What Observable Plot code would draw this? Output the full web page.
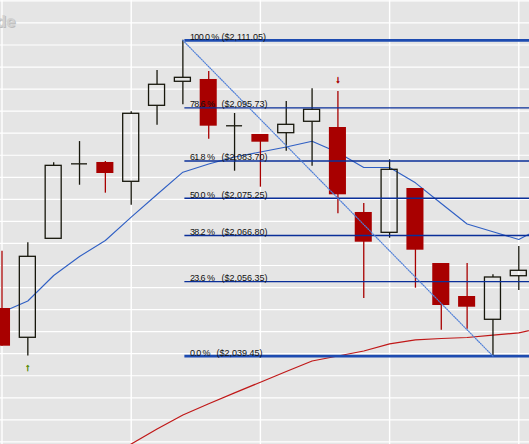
<!DOCTYPE html>
<html>
<head>
<meta charset="utf-8">
<script src="https://cdn.jsdelivr.net/npm/d3@7"></script>
<script src="https://cdn.jsdelivr.net/npm/@observablehq/plot@0.6"></script>
<style>
  html, body { margin: 0; padding: 0; background: #e5e5e5; overflow: hidden; }
  #chart svg { display: block; }
</style>
</head>
<body>
<div id="chart"></div>
<script>
// ---- data ----
const barIndex = [0,1,2,3,4,5,6,7,8,9,10,11,12,13,14,15,16,17,18,19,20];
const openP  = [2050.25,2043.61,2066.05,2083.05,2083.36,2078.98,2096.21,2101.66,2102.18,2091.68,2089.71,2090.00,2092.59,2091.29,2072.02,2067.41,2077.46,2060.45,2052.97,2047.69,2057.57];
const highP  = [2063.24,2065.15,2083.30,2088.10,2083.58,2094.85,2104.22,2111.05,2103.99,2094.47,2089.71,2097.19,2100.07,2099.46,2074.06,2083.97,2077.46,2060.45,2060.45,2057.89,2064.31];
const lowP   = [2041.70,2039.45,2066.05,2078.20,2076.40,2073.67,2091.81,2096.44,2088.64,2081.38,2077.76,2085.92,2082.52,2071.72,2052.50,2066.19,2054.85,2045.33,2045.56,2039.45,2054.33];
const closeP = [2041.70,2061.97,2082.60,2083.05,2080.86,2094.40,2100.98,2102.56,2091.59,2091.68,2087.96,2091.90,2095.31,2076.03,2065.28,2081.70,2063.47,2050.93,2050.54,2057.28,2058.80];

// short moving average (blue)
const maFastIndex = [0,1,2,3,4,5,6,7,8,9,10,11,12,13,14,15,16,17,18,19,20,21];
const maFast = [2049.39,2051.95,2057.73,2062.04,2065.67,2070.95,2076.10,2081.16,2083.02,2084.60,2085.74,2086.87,2088.19,2085.62,2082.22,2082.22,2078.75,2074.06,2069.41,2067.64,2065.90,2069.00];
// long moving average (red)
const maSlowIndex = [4,5,6,7,8,9,10,11,12,13,14,15,16,17,18,19,20,21];
const maSlow = [2016.01,2019.52,2022.93,2026.10,2028.66,2031.11,2033.54,2035.96,2038.34,2039.48,2040.61,2042.24,2043.15,2043.45,2043.67,2044.19,2044.74,2045.99];

// Fibonacci retracement
const fibPct   = [100.0, 78.6, 61.8, 50.0, 38.2, 23.6, 0.0];
const fibPrice = [2111.05, 2095.73, 2083.70, 2075.25, 2066.80, 2056.35, 2039.45];
const fibStartBar = 7;   // swing high bar
const fibEndBar = 19;    // swing low bar

// grid ticks
const gridPrices = [2020,2025,2030,2035,2040,2045,2050,2055,2060,2065,2070,2075,2080,2085,2090,2095,2100,2105,2110,2115,2120];
const gridBars = [0,5,10,15,20];

// swing markers
const swingLowBar = 1;
const swingHighBar = 13;

// ---- build tables ----
const candles = barIndex.map((i, k) => ({i, o: openP[k], h: highP[k], l: lowP[k], c: closeP[k]}));
const down = candles.filter(d => d.c < d.o);
const up = candles.filter(d => d.c >= d.o);
const upBody = up.filter(d => d.c - d.o > 0.05);
const upDoji = up.filter(d => d.c - d.o <= 0.05);
const fast = maFastIndex.map((i, k) => ({i, v: maFast[k]}));
const slow = maSlowIndex.map((i, k) => ({i, v: maSlow[k]}));
const fib = fibPct.map((p, k) => ({pct: p, price: fibPrice[k]}));
const diag = [{i: fibStartBar, v: fibPrice[0]}, {i: fibEndBar, v: fibPrice[fibPrice.length - 1]}];

const HW = 0.31;   // half body width (bars)
const RED = "#a80000";
const INK = "#17170c";
const NAVY = "#0a2f99";

const chart = Plot.plot({
  width: 529,
  height: 444,
  margin: 0,
  x: {type: "linear", domain: [-0.058, 20.414], axis: null},
  y: {type: "linear", domain: [2019.41, 2120.09], axis: null},
  style: {background: "#e5e5e5", fontFamily: "'Liberation Sans', Arial, sans-serif"},
  marks: [
    Plot.ruleY(gridPrices, {stroke: "#ffffff", strokeWidth: 1.2}),
    Plot.ruleX(gridBars, {stroke: "#ffffff", strokeWidth: 1.4}),
    Plot.line(slow, {x: "i", y: "v", stroke: "#c01818", strokeWidth: 1.2}),
    Plot.line(fast, {x: "i", y: "v", stroke: "#2f5fc4", strokeWidth: 1.1}),
    // bearish candles
    Plot.ruleX(down, {x: "i", y1: "l", y2: "h", stroke: RED, strokeWidth: 1.3}),
    Plot.rect(down, {x1: d => d.i - HW - 0.02, x2: d => d.i + HW + 0.02, y1: "o", y2: "c", fill: RED}),
    // bullish candles
    Plot.ruleX(up, {x: "i", y1: "h", y2: "c", stroke: INK, strokeWidth: 1.3}),
    Plot.ruleX(up, {x: "i", y1: "o", y2: "l", stroke: INK, strokeWidth: 1.3}),
    Plot.rect(upBody, {x1: d => d.i - HW, x2: d => d.i + HW, y1: "o", y2: "c", fill: "none", stroke: INK, strokeWidth: 1.3}),
    Plot.ruleY(upDoji, {y: "c", x1: d => d.i - HW, x2: d => d.i + HW, stroke: INK, strokeWidth: 1.3}),
    // fib levels
    Plot.ruleY(fib.filter(d => d.pct !== 0 && d.pct !== 100), {y: "price", x1: fibStartBar, x2: 21, dx: 2, stroke: NAVY, strokeWidth: 1.3}),
    Plot.ruleY(fib.filter(d => d.pct === 0 || d.pct === 100), {y: "price", x1: fibStartBar, x2: 21, dx: 2, stroke: "#1d4bb0", strokeWidth: 2.6}),
    Plot.line(diag, {x: "i", y: "v", stroke: "#4f7fd8", strokeWidth: 1.2, strokeDasharray: "1,1.4"}),
    Plot.text(fib, {x: fibStartBar, y: "price", text: d => `${d.pct.toFixed(1)} %`, textAnchor: "start", dx: 7, dy: -3.5, fontSize: 9, fill: "#111"}),
    Plot.text(fib, {x: fibStartBar, y: "price", text: d => `($${d3.format(",.2f")(d.price)})`, textAnchor: "start", dx: 38.5, dy: -3.5, fontSize: 9, fill: "#111"}),
    // swing markers
    Plot.text(candles.filter(d => d.i === swingLowBar), {x: "i", y: "l", text: () => "↑", dy: 12, fontSize: 10, fontWeight: "bold", fill: "#5f8f10", stroke: "#5f8f10", strokeWidth: 0.6}),
    Plot.text(candles.filter(d => d.i === swingHighBar), {x: "i", y: "h", text: () => "↓", dy: -12, fontSize: 10, fontWeight: "bold", fill: RED, stroke: RED, strokeWidth: 0.6}),
    // watermark fragment
    Plot.text(["de"], {frameAnchor: "top-left", text: d => d, textAnchor: "end", lineAnchor: "top", dx: 16, dy: 15, fontSize: 17, fontWeight: "bold", fill: "#bcbcbc"}),
    Plot.text(["de"], {frameAnchor: "top-left", text: d => d, textAnchor: "end", lineAnchor: "top", dx: 15, dy: 14, fontSize: 17, fontWeight: "bold", fill: "#d2d2d2"})
  ]
});

const textGroups = d3.select(chart).selectAll('g[aria-label="text"]').nodes();
// first text mark: percentages, second: prices
d3.select(textGroups[0]).selectAll("text").style("letter-spacing", "-0.6px");
d3.select(textGroups[1]).selectAll("text").each(function(d, k) {
  if (fibPct[k] === 0) d3.select(this).attr("x", -5);
});
document.getElementById("chart").appendChild(chart);
</script>
</body>
</html>
